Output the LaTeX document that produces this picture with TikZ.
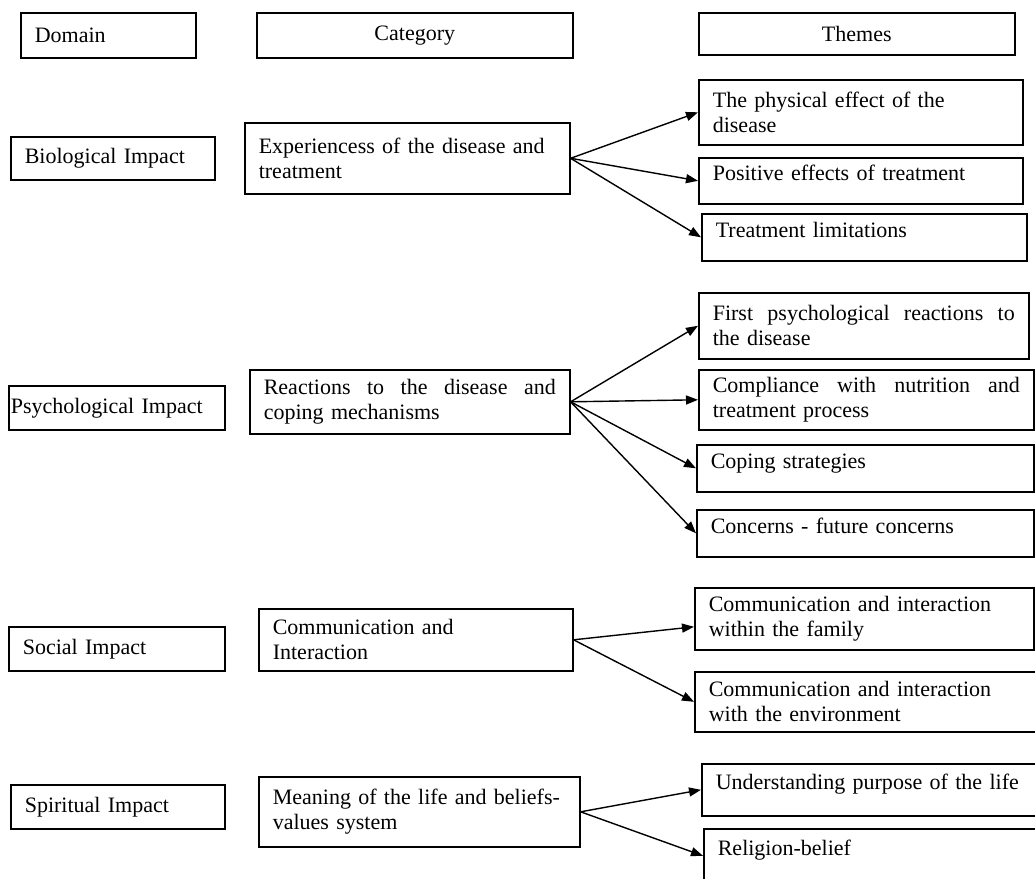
\documentclass[tikz,border=0pt]{standalone}
\usepackage{fontspec}
\setmainfont{Liberation Serif}
\usepackage{tikz}
\usetikzlibrary{arrows.meta}

\begin{document}
\begin{tikzpicture}[x=1pt,y=-1pt]
  \useasboundingbox (0,0) rectangle (1035,878);

  % Define styles for the boxes and the arrows
  \tikzset{
    mybox/.style={draw, line width=1.6pt, anchor=north west, align=left,
      inner xsep=14pt, inner ysep=0pt, font=\fontsize{22}{25}\selectfont},
    myhead/.style={mybox, align=center},
    oneline/.style={text height=15pt, text depth=15pt},
    myline/.style={line width=1.4pt, -{Triangle[length=12pt,width=9pt]}}
  }

  % Column headers
  \node[mybox, text width=147pt, minimum height=45pt] (dom) at (20,12) {Domain};
  \node[myhead, text width=288pt, minimum height=45pt] (cat) at (256,12) {Category};
  \node[myhead, text width=288pt, minimum height=42pt] (thm) at (698,12) {Themes};

  % Domains
  \node[mybox, text width=176pt, minimum height=43pt] (bio) at (10,136) {Biological Impact};
  \node[mybox, text width=212pt, minimum height=44pt, inner xsep=2pt] (psy) at (8,385) {Psychological Impact};
  \node[mybox, text width=188pt, minimum height=44pt] (soc) at (8,626) {Social Impact};
  \node[mybox, text width=186pt, minimum height=44pt] (spi) at (10,784) {Spiritual Impact};

  % Categories
  \node[mybox, text width=297pt, minimum height=71pt] (c1) at (244,122) {Experiencess of the disease and\\treatment};
  \node[mybox, text width=292pt, minimum height=64pt] (c2) at (249,369) {Reactions\hfill to\hfill the\hfill disease\hfill and\\coping mechanisms};
  \node[mybox, text width=286pt, minimum height=62pt] (c3) at (258,608) {Communication and\\Interaction};
  \node[mybox, text width=293pt, minimum height=70pt] (c4) at (258,776) {Meaning of the life and beliefs-\\values system};

  % Themes
  \node[mybox, text width=296pt, minimum height=65pt] (t11) at (698,79) {The physical effect of the\\disease};
  \node[mybox, oneline, text width=296pt, minimum height=46pt] (t12) at (698,157) {Positive effects of treatment};
  \node[mybox, oneline, text width=297pt, minimum height=47pt] (t13) at (701,213) {Treatment limitations};
  \node[mybox, text width=302pt, minimum height=66pt] (t21) at (698,292) {First\hfill psychological\hfill reactions\hfill to\\the disease};
  \node[mybox, text width=307pt, minimum height=60pt] (t22) at (698,369) {Compliance\hfill with\hfill nutrition\hfill and\\treatment process};
  \node[mybox, oneline, text width=309pt, minimum height=47pt] (t23) at (696,444) {Coping strategies};
  \node[mybox, oneline, text width=309pt, minimum height=47pt] (t24) at (696,509) {Concerns - future concerns};
  \node[mybox, text width=311pt, minimum height=62pt] (t31) at (694,587) {Communication and interaction\\within the family};
  \node[mybox, text width=313pt, minimum height=60pt] (t32) at (694,671) {Communication and interaction\\with the environment};
  \node[mybox, oneline, text width=308pt, minimum height=52pt] (t41) at (701,763) {Understanding purpose of the life};
  \node[mybox, oneline, text width=309pt, minimum height=54pt] (t42) at (703,828) {Religion-belief};

  % Draw arrows from categories to themes
  \draw[myline] (c1.east) -- (t11.west);
  \draw[myline] (c1.east) -- (t12.west);
  \draw[myline] (c1.east) -- (t13.west);
  \draw[myline] (c2.east) -- (t21.west);
  \draw[myline] (c2.east) -- (t22.west);
  \draw[myline] (c2.east) -- (t23.west);
  \draw[myline] (c2.east) -- (t24.west);
  \draw[myline] (c3.east) -- ([yshift=-8pt]t31.west);
  \draw[myline] (c3.east) -- (t32.west);
  \draw[myline] (c4.east) -- (t41.west);
  \draw[myline] (c4.east) -- (t42.west);

\end{tikzpicture}
\end{document}
